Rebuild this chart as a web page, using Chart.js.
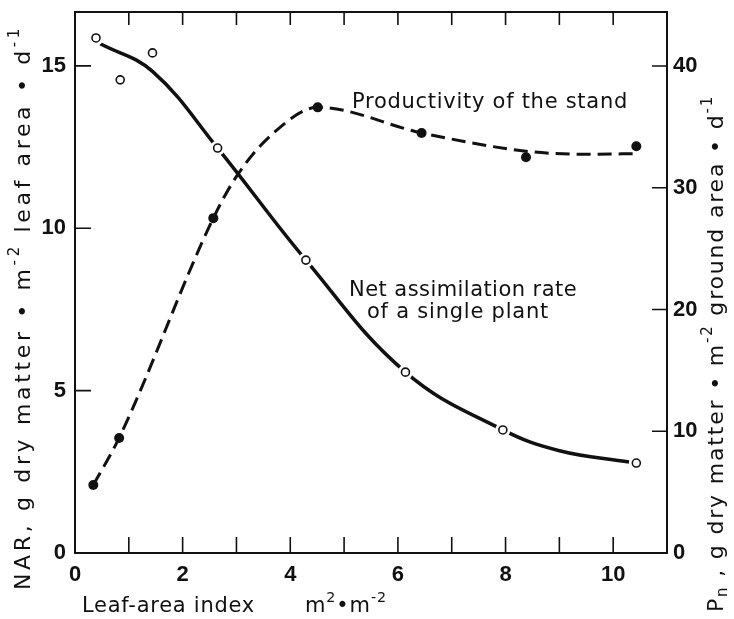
<!DOCTYPE html>
<html>
<head>
<meta charset="utf-8">
<script src="https://cdn.jsdelivr.net/npm/chart.js@4.4.0/dist/chart.umd.min.js"></script>
<style>
html, body { margin: 0; padding: 0; background: #fff; }
#wrap { width: 734px; height: 619px; }
</style>
</head>
<body>
<div id="wrap"><canvas id="narChart"></canvas></div>
<script>
// measured points, net assimilation rate (left axis)
var narX = [0.39, 0.84, 1.44, 2.65, 4.29, 6.14, 7.95, 10.43];
var narY = [15.86, 14.57, 15.4, 12.47, 9.02, 5.57, 3.79, 2.77];
// fitted curve
var narCurveX = [0.47, 1.44, 2.65, 4.29, 6.14, 7.95, 9.0, 10.3];
var narCurveY = [15.68, 14.83, 12.47, 9.02, 5.57, 3.79, 3.15, 2.8];

// productivity of the stand (right axis)
var prodX = [0.34, 0.82, 2.57, 4.51, 6.44, 8.38, 10.43];
var prodY = [5.59, 9.45, 27.5, 36.6, 34.5, 32.5, 33.4];
var prodCurveX = [0.34, 0.82, 2.57, 3.02, 3.69, 4.51, 6.44, 8.38, 9.5, 10.43];
var prodCurveY = [5.59, 9.45, 27.5, 31.06, 34.5, 36.6, 34.5, 33.0, 32.75, 32.8];

var xLabels = [0, 2, 4, 6, 8, 10];
var leftTicks = [0, 5, 10, 15];
var rightTicks = [0, 10, 20, 30, 40];

function pts(xs, ys) {
    return xs.map(function (x, i) { return { x: x, y: ys[i] }; });
}

var tickFont = { family: "'Liberation Sans', Arial, sans-serif", size: 22, weight: 'bold' };
var textFont = "'DejaVu Sans', sans-serif";

function fitText(ctx, txt, x, y, w, size) {
    ctx.font = size + 'px ' + textFont;
    ctx.letterSpacing = '0px';
    var m = ctx.measureText(txt).width;
    ctx.letterSpacing = ((w - m) / txt.length) + 'px';
    ctx.fillText(txt, x, y);
    ctx.letterSpacing = '0px';
}

// rich text: segments drawn in a row, 'sup'/'sub' smaller and shifted
function richText(ctx, segs, x, y, w, size) {
    var total = 0, n = 0;
    segs.forEach(function (s) {
        var fs = s.k ? size * 0.68 : size;
        ctx.font = fs + 'px ' + textFont;
        ctx.letterSpacing = '0px';
        total += ctx.measureText(s.t).width;
        n += s.t.length;
    });
    var ls = (w - total) / n;
    var cx = x;
    segs.forEach(function (s) {
        var fs = s.k ? size * 0.68 : size;
        var dy = s.k === 'sup' ? -size * 0.42 : (s.k === 'sub' ? size * 0.3 : 0);
        ctx.font = fs + 'px ' + textFont;
        ctx.letterSpacing = ls + 'px';
        ctx.fillText(s.t, cx, y + dy);
        cx += ctx.measureText(s.t).width;
    });
    ctx.letterSpacing = '0px';
}

var framePlugin = {
    id: 'frame',
    afterDraw: function (chart) {
        var ctx = chart.ctx, a = chart.chartArea;
        var sx = chart.scales.x, sy = chart.scales.y, sr = chart.scales.y1;
        ctx.save();
        ctx.strokeStyle = '#111';
        ctx.lineWidth = 2;
        ctx.strokeRect(a.left, a.top, a.right - a.left, a.bottom - a.top);
        ctx.lineWidth = 1.6;
        ctx.beginPath();
        sx.ticks.forEach(function (t) {
            if (t.value <= sx.min || t.value >= sx.max) return;
            var px = sx.getPixelForValue(t.value);
            ctx.moveTo(px, a.bottom); ctx.lineTo(px, a.bottom - 16);
            ctx.moveTo(px, a.top); ctx.lineTo(px, a.top + 13);
        });
        sy.ticks.forEach(function (t) {
            if (t.value <= sy.min || t.value >= sy.max) return;
            var py = sy.getPixelForValue(t.value);
            ctx.moveTo(a.left, py); ctx.lineTo(a.left + 16, py);
        });
        sr.ticks.forEach(function (t) {
            if (t.value <= sr.min || t.value >= sr.max) return;
            var py = sr.getPixelForValue(t.value);
            ctx.moveTo(a.right, py); ctx.lineTo(a.right - 15, py);
        });
        ctx.stroke();

        ctx.fillStyle = '#111';
        ctx.textBaseline = 'middle';
        ctx.textAlign = 'left';
        fitText(ctx, 'Productivity of the stand', 352, 103, 276, 21);
        fitText(ctx, 'Net assimilation rate', 349, 291, 228, 21);
        fitText(ctx, 'of a single plant', 367, 313, 182, 21);
        fitText(ctx, 'Leaf-area index', 82, 607, 173, 21);
        richText(ctx, [{ t: 'm' }, { t: '2', k: 'sup' }, { t: '\u2022m' }, { t: '-2', k: 'sup' }], 305, 607, 82, 21);

        ctx.save();
        ctx.translate(24, 590);
        ctx.rotate(-Math.PI / 2);
        richText(ctx, [
            { t: 'NAR, g dry matter \u2022 m' }, { t: '-2', k: 'sup' },
            { t: ' leaf area \u2022 d' }, { t: '-1', k: 'sup' }
        ], 0, 0, 565, 22);
        ctx.restore();

        ctx.save();
        ctx.translate(717, 612);
        ctx.rotate(-Math.PI / 2);
        richText(ctx, [
            { t: 'P' }, { t: 'n', k: 'sub' }, { t: ' , g dry matter \u2022 m' }, { t: '-2', k: 'sup' },
            { t: ' ground area \u2022 d' }, { t: '-1', k: 'sup' }
        ], 0, 0, 517, 22);
        ctx.restore();
        ctx.restore();
    }
};

function noPad(s) {
    s.paddingTop = 0; s.paddingBottom = 0; s.paddingLeft = 0; s.paddingRight = 0;
}

var ctx = document.getElementById('narChart').getContext('2d');
window.narChart = new Chart(ctx, {
    type: 'scatter',
    data: {
        datasets: [
            {
                label: 'NAR',
                data: pts(narX, narY),
                yAxisID: 'y',
                pointRadius: 4,
                pointBorderWidth: 1.6,
                pointBorderColor: '#111',
                pointBackgroundColor: '#fff',
                showLine: false
            },
            {
                label: 'Productivity',
                data: pts(prodX, prodY),
                yAxisID: 'y1',
                pointRadius: 5,
                pointBorderWidth: 0,
                pointBackgroundColor: '#111',
                showLine: false
            },
            {
                label: 'halo',
                data: pts(narX, narY),
                yAxisID: 'y',
                pointRadius: 7.5,
                pointBorderWidth: 0,
                pointBackgroundColor: '#fff',
                showLine: false
            },
            {
                label: 'NAR curve',
                data: pts(narCurveX, narCurveY),
                yAxisID: 'y',
                showLine: true,
                pointRadius: 0,
                borderColor: '#111',
                borderWidth: 3.5,
                tension: 0.4
            },
            {
                label: 'Productivity curve',
                data: pts(prodCurveX, prodCurveY),
                yAxisID: 'y1',
                showLine: true,
                pointRadius: 0,
                borderColor: '#111',
                borderWidth: 3,
                borderDash: [14, 7],
                cubicInterpolationMode: 'monotone'
            }
        ]
    },
    options: {
        responsive: true,
        maintainAspectRatio: false,
        animation: false,
        layout: { padding: { top: 12, left: 0, right: 0, bottom: 0 } },
        plugins: { legend: { display: false }, tooltip: { enabled: false } },
        scales: {
            x: {
                type: 'linear', min: 0, max: 11,
                grid: { display: false, drawTicks: false }, border: { display: false },
                afterFit: function (s) { s.height = 66; noPad(s); },
                ticks: {
                    stepSize: 1, autoSkip: false, maxRotation: 0, padding: 9,
                    color: '#111', font: tickFont,
                    callback: function (v) { return xLabels.indexOf(v) >= 0 ? String(v) : ''; }
                }
            },
            y: {
                type: 'linear', position: 'left', min: 0, max: 16.66,
                grid: { display: false, drawTicks: false }, border: { display: false },
                afterFit: function (s) { s.width = 75; noPad(s); },
                afterBuildTicks: function (s) { s.ticks = leftTicks.map(function (v) { return { value: v }; }); },
                ticks: { padding: 9, color: '#111', font: tickFont }
            },
            y1: {
                type: 'linear', position: 'right', min: 0, max: 44.43,
                grid: { display: false, drawTicks: false }, border: { display: false },
                afterFit: function (s) { s.width = 67; noPad(s); },
                afterBuildTicks: function (s) { s.ticks = rightTicks.map(function (v) { return { value: v }; }); },
                ticks: { padding: 6, color: '#111', font: tickFont }
            }
        }
    },
    plugins: [framePlugin]
});
</script>
</body>
</html>
